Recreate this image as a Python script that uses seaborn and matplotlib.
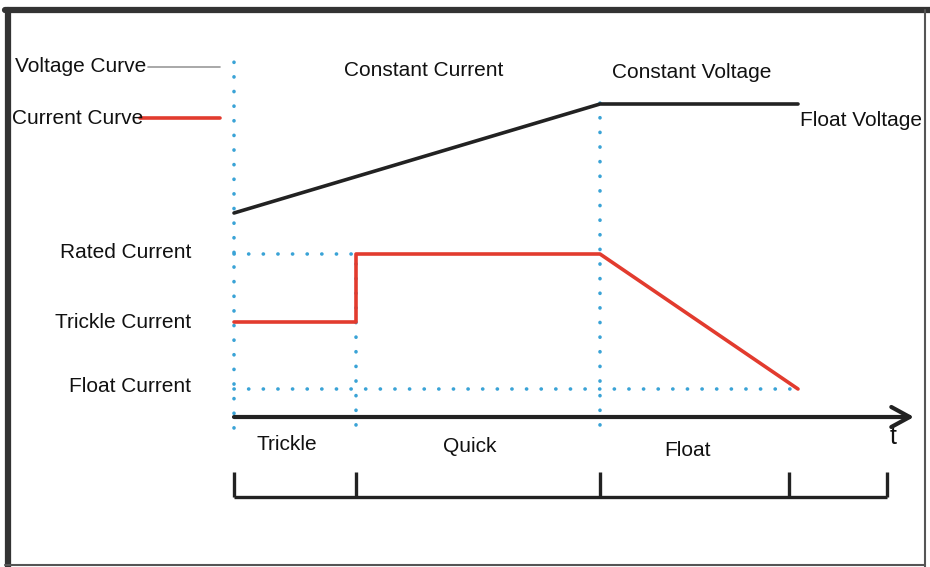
import matplotlib
matplotlib.use("Agg")
import matplotlib.pyplot as plt
import seaborn as sns
import pandas as pd
from matplotlib.lines import Line2D

sns.set_theme(style="white")
plt.rcParams['font.family'] = ['Liberation Sans', 'DejaVu Sans']

# ---- data (time units, level units) ----
phase_names = ["Trickle", "Quick", "Float"]
phase_bounds = [0.0, 12.2, 36.6, 55.5, 65.3]      # bracket tick positions
t_end = 56.4                                       # end of float current / float voltage
voltage_t = [0.0, 36.6, 56.4]
voltage_v = [20.4, 31.3, 31.3]
current_t = [0.0, 12.2, 12.2, 36.6, 56.4]
current_i = [9.5, 9.5, 16.3, 16.3, 2.8]
rated_current = 16.3
trickle_current = 9.5
float_current = 2.8
current_labels = ["Rated Current", "Trickle Current", "Float Current"]
mode_labels = ["Constant Current", "Constant Voltage"]

RED = "#e23b2e"
BLUE = "#3aa3d6"
DARK = "#222222"

fig = plt.figure(figsize=(9.3, 5.67), dpi=100)
ax = fig.add_axes([0, 0, 1, 1])
ax.set_xlim(-23.4, 69.6)
ax.set_ylim(-15.0, 41.7)
ax.axis("off")

dot = dict(color=BLUE, lw=2.6, linestyle=(0, (0.05, 4.0)), dash_capstyle="round", zorder=1)

# vertical dotted guides
ax.plot([0, 0], [-1.1, 36.2], **dot)
ax.plot([12.2, 12.2], [-0.8, rated_current], **dot)
ax.plot([36.6, 36.6], [-0.8, 31.9], **dot)
# horizontal dotted guides
ax.plot([0, 12.2], [rated_current, rated_current], **dot)
ax.plot([0, t_end], [float_current, float_current], **dot)

# curves
vdf = pd.DataFrame({"t": voltage_t, "v": voltage_v})
idf = pd.DataFrame({"t": current_t, "i": current_i})
sns.lineplot(data=vdf, x="t", y="v", sort=False, estimator=None, color=DARK, lw=2.6, ax=ax, zorder=3)
sns.lineplot(data=idf, x="t", y="i", sort=False, estimator=None, color=RED, lw=2.6, ax=ax, zorder=3)
ax.axis("off")

# time axis with arrow
ax.annotate("", xy=(68.0, 0), xytext=(0, 0),
            arrowprops=dict(arrowstyle="->,head_length=1.1,head_width=0.6",
                            color=DARK, lw=3, shrinkA=0, shrinkB=0), zorder=4)
ax.text(65.9, -2.0, "t", fontsize=18, ha="center", va="center", color="#111")

# phase labels
fs = 15
ax.text(5.3, -2.8, phase_names[0], fontsize=fs, ha="center", va="center", color="#111")
ax.text(23.6, -3.0, phase_names[1], fontsize=fs, ha="center", va="center", color="#111")
ax.text(45.3, -3.3, phase_names[2], fontsize=fs, ha="center", va="center", color="#111")

# bracket
ax.plot([phase_bounds[0], phase_bounds[-1]], [-8.0, -8.0], color=DARK, lw=2.4, solid_capstyle="butt")
for b in phase_bounds:
    ax.plot([b, b], [-8.0, -5.5], color=DARK, lw=2.4, solid_capstyle="butt")

# left current labels
for lab, lvl in zip(current_labels, [rated_current + 0.2, trickle_current, float_current + 0.3]):
    ax.text(-4.3, lvl, lab, fontsize=fs, ha="right", va="center", color="#111")

# legend-like labels
ax.text(-21.9, 35.0, "Voltage Curve", fontsize=fs, ha="left", va="center", color="#111")
ax.plot([-8.6, -1.4], [35.0, 35.0], color="#999999", lw=1.2)
ax.text(-22.2, 29.9, "Current Curve", fontsize=fs, ha="left", va="center", color="#111")
ax.plot([-9.4, -1.4], [29.9, 29.9], color=RED, lw=2.6)

# mode labels
ax.text(19.0, 34.7, mode_labels[0], fontsize=fs, ha="center", va="center", color="#111")
ax.text(45.8, 34.5, mode_labels[1], fontsize=fs, ha="center", va="center", color="#111")
ax.text(56.6, 29.7, "Float Voltage", fontsize=fs, ha="left", va="center", color="#111")

# outer frame
fig.add_artist(Line2D([0.009, 0.009], [0.0, 0.982], transform=fig.transFigure, color="#333333", lw=4.5))
fig.add_artist(Line2D([0.005, 1.0], [0.982, 0.982], transform=fig.transFigure, color="#333333", lw=4.5))
fig.add_artist(Line2D([0.995, 0.995], [0.0, 0.982], transform=fig.transFigure, color="#555555", lw=1.5))
fig.add_artist(Line2D([0.005, 0.995], [0.004, 0.004], transform=fig.transFigure, color="#555555", lw=1.5))

fig.savefig("out.png", dpi=100)
